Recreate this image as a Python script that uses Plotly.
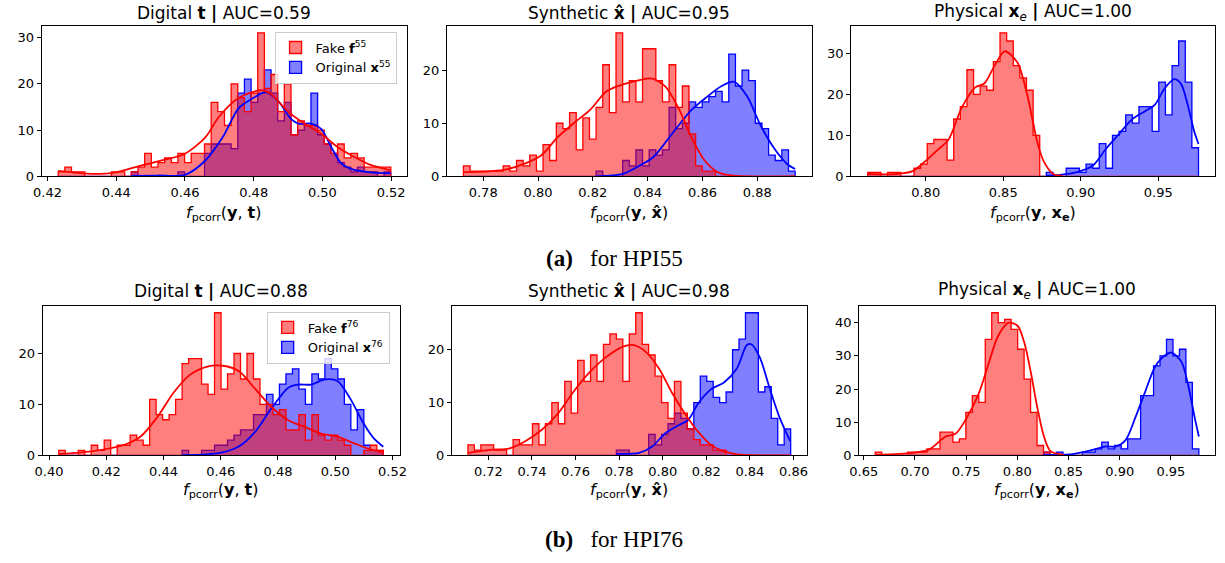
import numpy as np
import plotly.graph_objects as go

# ---- data: 50 shared bins per panel (first edge, last edge)
# (a) HPI55
a_digital_bins = [0.4231, 0.5199]
a_digital_fake = [1, 2, 1, 1, 0, 0, 0, 0, 1, 1, 0, 1, 2, 5, 2, 3, 4, 3, 5, 3,
                  5, 5, 7, 16, 14, 11, 20, 17, 14, 18, 31, 19, 22, 14, 20, 9, 12, 11, 11, 10,
                  7, 5, 7, 4, 5, 4, 2, 2, 2, 2]
a_digital_orig = [0, 0, 0, 0, 0, 0, 0, 0, 0, 0, 0, 1, 0, 0, 0, 0, 0, 0, 1, 0,
                  0, 0, 5, 7, 7, 7, 6, 18, 21, 16, 18, 23, 18, 12, 16, 9, 10, 11, 18, 9,
                  7, 5, 3, 2, 1, 2, 1, 1, 0, 1]
a_digital_kde_fake_x = [0.4231, 0.4277, 0.4334, 0.44, 0.4469, 0.4536, 0.46, 0.466, 0.47, 0.4757,
                        0.4824, 0.4853, 0.49, 0.495, 0.4997, 0.5045, 0.5093, 0.514, 0.5199]
a_digital_kde_fake_y = [1.2, 0.85, 0.55, 0.9, 2.3, 3.5, 4.9, 8.5, 13, 17,
                        18.6, 17.6, 14, 11.3, 9.2, 6.3, 4.2, 2.5, 1.3]
a_digital_kde_orig_x = [0.4444, 0.452, 0.46, 0.466, 0.471, 0.4757, 0.4805, 0.4834, 0.4872, 0.491,
                        0.493, 0.4968, 0.4997, 0.5026, 0.5055, 0.5093, 0.514, 0.5199]
a_digital_kde_orig_y = [0.1, 0.2, 0.35, 3.5, 8.5, 14.8, 17.2, 18.2, 16.2, 12.3,
                        11.4, 11.4, 10.2, 6.3, 2.8, 1.4, 0.9, 0.7]

a_synth_bins = [0.7728, 0.8938]
a_synth_fake = [2, 1, 1, 1, 1, 1, 2, 1, 3, 2, 4, 1, 6, 3, 10, 9, 12, 5, 11, 7,
                13, 21, 12, 27, 14, 18, 14, 24, 24, 18, 14, 21, 13, 17, 8, 2, 1, 1, 0, 0,
                0, 0, 0, 0, 0, 0, 0, 0, 0, 0]
a_synth_orig = [0, 0, 0, 0, 0, 0, 0, 0, 0, 0, 0, 0, 0, 0, 0, 0, 0, 0, 0, 0,
                1, 0, 0, 0, 3, 2, 5, 2, 5, 4, 5, 13, 9, 10, 14, 13, 14, 15, 16, 14,
                23, 17, 20, 18, 10, 9, 4, 3, 5, 1]
a_synth_kde_fake_x = [0.7728, 0.789, 0.801, 0.807, 0.813, 0.819, 0.825, 0.831, 0.837, 0.8417,
                      0.8465, 0.8513, 0.856, 0.8608, 0.8656, 0.872, 0.8938]
a_synth_kde_fake_y = [0.8, 1.4, 3.9, 7.3, 10, 12.5, 16, 17.3, 18.1, 18.4,
                      16.9, 12.8, 7.3, 3, 0.8, 0.1, 0]
a_synth_kde_orig_x = [0.8212, 0.831, 0.837, 0.842, 0.8465, 0.851, 0.856, 0.861, 0.867, 0.8716,
                      0.8764, 0.881, 0.886, 0.891, 0.8938]
a_synth_kde_orig_y = [0, 0.5, 2, 3.6, 6.4, 9.4, 12.5, 14.7, 17, 17.8,
                      15, 9.8, 5.4, 2.3, 1.4]

a_phys_bins = [0.7626, 0.976]
a_phys_fake = [1, 1, 0, 1, 1, 0, 0, 2, 3, 8, 9, 9, 4, 14, 17, 26, 20, 22, 21, 28,
               35, 33, 27, 24, 21, 10, 0, 0, 0, 0, 0, 0, 0, 0, 0, 0, 0, 0, 0, 0,
               0, 0, 0, 0, 0, 0, 0, 0, 0, 0]
a_phys_orig = [0, 0, 0, 0, 0, 0, 0, 0, 0, 0, 0, 0, 0, 0, 0, 0, 0, 0, 0, 0,
               0, 0, 0, 0, 0, 0, 0, 1, 0, 0, 2, 2, 1, 3, 2, 8, 2, 10, 11, 15,
               13, 17, 17, 11, 23, 15, 27, 33, 23, 7]
a_phys_kde_fake_x = [0.7626, 0.781, 0.7916, 0.80, 0.8084, 0.8148, 0.8232, 0.832, 0.838, 0.844,
                     0.851, 0.8591, 0.8655, 0.8718, 0.876, 0.8823, 0.8887]
a_phys_kde_fake_y = [0.6, 0.6, 1.3, 3.8, 6.7, 9, 16.7, 21.7, 22.7, 26.7,
                     30.5, 27.8, 19.9, 8.7, 3.8, 0.6, 0.1]
a_phys_kde_orig_x = [0.8777, 0.8866, 0.8971, 0.9077, 0.9162, 0.9246, 0.9331, 0.9415, 0.9479, 0.9542,
                     0.9605, 0.9648, 0.969, 0.9732, 0.976]
a_phys_kde_orig_y = [0.2, 0.4, 1, 2.6, 6.7, 10.3, 13.9, 15.9, 17.5, 21.5,
                     23.7, 22.5, 17.5, 11, 7.9]

# (b) HPI76
b_digital_bins = [0.4034, 0.5168]
b_digital_fake = [1, 0, 0, 1, 0, 2, 1, 3, 0, 2, 2, 4, 3, 2, 11, 8, 7, 8, 11, 18,
                  19, 19, 14, 12, 28, 13, 16, 20, 15, 20, 15, 10, 10, 8, 9, 5, 5, 8, 3, 8,
                  4, 3, 4, 3, 2, 0, 0, 1, 2, 1]
b_digital_orig = [0, 0, 0, 0, 0, 0, 0, 0, 0, 0, 0, 0, 0, 0, 0, 0, 0, 0, 0, 1,
                  0, 0, 1, 1, 2, 2, 3, 4, 5, 5, 8, 8, 12, 10, 14, 16, 17, 13, 10, 16,
                  15, 19, 17, 15, 10, 5, 9, 2, 1, 1]
b_digital_kde_fake_x = [0.4034, 0.4149, 0.4263, 0.432, 0.4378, 0.4435, 0.4492, 0.455, 0.4607, 0.4664,
                        0.4721, 0.4779, 0.4836, 0.4893, 0.495, 0.5008, 0.5065, 0.5122, 0.5168]
b_digital_kde_fake_y = [0.3, 0.8, 2.1, 3.7, 7.5, 12.3, 15.8, 17.4, 17.6, 16.5,
                        13, 9.4, 6.9, 5.6, 4.3, 3.7, 2.4, 1.2, 0.6]
b_digital_kde_orig_x = [0.4465, 0.455, 0.4607, 0.4664, 0.4721, 0.4779, 0.4836, 0.487, 0.4916, 0.4962,
                        0.5008, 0.5053, 0.5099, 0.5134, 0.5168]
b_digital_kde_orig_y = [0.05, 0.2, 0.6, 1.8, 4.7, 9.4, 13.3, 13.9, 13.9, 14.9,
                        14.6, 11.1, 6.3, 3.4, 1.7]

b_synth_bins = [0.7106, 0.8587]
b_synth_fake = [2, 1, 2, 2, 1, 1, 0, 3, 2, 2, 6, 2, 6, 10, 6, 14, 8, 18, 14, 19,
                14, 21, 23, 22, 14, 23, 27, 21, 19, 15, 10, 7, 14, 8, 5, 3, 2, 2, 1, 1,
                0, 0, 0, 0, 0, 0, 0, 0, 0, 0]
b_synth_orig = [0, 0, 0, 0, 0, 0, 0, 0, 0, 0, 0, 0, 0, 0, 0, 0, 0, 0, 0, 0,
                0, 0, 0, 1, 1, 0, 0, 0, 4, 2, 4, 6, 8, 7, 5, 10, 15, 14, 11, 10,
                12, 20, 22, 27, 27, 12, 13, 7, 2, 5]
b_synth_kde_fake_x = [0.7107, 0.7219, 0.7294, 0.7369, 0.7444, 0.7519, 0.7593, 0.7668, 0.7743, 0.7818,
                      0.7862, 0.7922, 0.7982, 0.8042, 0.8102, 0.8162, 0.8221, 0.8281, 0.8341, 0.8585]
b_synth_kde_fake_y = [0.5, 1.1, 1.3, 2.7, 4.8, 7.9, 12.2, 15.9, 18.7, 20.6,
                      20.9, 19.6, 16.5, 11.9, 7.9, 4.5, 2, 0.8, 0.2, 0]
b_synth_kde_orig_x = [0.7788, 0.7892, 0.7952, 0.8012, 0.8072, 0.8117, 0.8162, 0.8221, 0.8281, 0.8341,
                      0.8386, 0.8408, 0.8446, 0.849, 0.8535, 0.8585]
b_synth_kde_orig_y = [0.3, 0.5, 1.7, 4.2, 5.7, 6.7, 9.8, 12.5, 13.8, 16.5,
                      20.9, 21, 18.5, 12.8, 7.3, 2.7]

b_phys_bins = [0.6612, 0.9773]
b_phys_fake = [1, 0, 0, 0, 0, 1, 1, 1, 2, 2, 7, 7, 4, 5, 13, 18, 16, 35, 43, 40,
               41, 38, 32, 23, 13, 3, 1, 0, 0, 0, 0, 0, 0, 0, 0, 0, 0, 0, 0, 0,
               0, 0, 0, 0, 0, 0, 0, 0, 0, 0]
b_phys_orig = [0, 0, 0, 0, 0, 0, 0, 0, 0, 0, 0, 0, 0, 0, 0, 0, 0, 0, 0, 0,
               0, 0, 0, 0, 0, 0, 1, 0, 1, 0, 0, 0, 1, 1, 2, 4, 2, 3, 2, 5,
               5, 18, 18, 27, 30, 35, 30, 32, 22, 2]
b_phys_kde_fake_x = [0.6612, 0.698, 0.714, 0.73, 0.7396, 0.7492, 0.762, 0.7716, 0.7812, 0.7917,
                     0.8004, 0.8068, 0.8132, 0.8195, 0.826, 0.8323, 0.8451]
b_phys_kde_fake_y = [0.2, 0.8, 1.8, 5.7, 6.5, 10.6, 18.4, 27.3, 36, 40,
                     39, 34, 25, 14.5, 5.7, 1.3, 0.2]
b_phys_kde_orig_x = [0.8256, 0.8515, 0.8643, 0.8771, 0.8867, 0.8963, 0.9059, 0.9155, 0.9251, 0.9347,
                     0.9443, 0.9507, 0.9603, 0.9667, 0.9731, 0.9773]
b_phys_kde_orig_y = [0.1, 0.3, 1, 2, 2.7, 2.7, 4.7, 11.6, 19.4, 26.8,
                     30.2, 31, 28.2, 21.4, 11.6, 5.7]

titles = ["Digital <b>t</b> <b>|</b> AUC=0.59",
          "Synthetic <b>x\u0302</b> <b>|</b> AUC=0.95",
          "Physical <b>x</b><sub><i>e</i></sub> <b>|</b> AUC=1.00",
          "Digital <b>t</b> <b>|</b> AUC=0.88",
          "Synthetic <b>x\u0302</b> <b>|</b> AUC=0.98",
          "Physical <b>x</b><sub><i>e</i></sub> <b>|</b> AUC=1.00"]
xlabels = ["<i>f</i><sub>pcorr</sub>(<b>y</b>, <b>t</b>)",
           "<i>f</i><sub>pcorr</sub>(<b>y</b>, <b>x\u0302</b>)",
           "<i>f</i><sub>pcorr</sub>(<b>y</b>, <b>x<sub>e</sub></b>)"] * 2
x_dticks = [0.02, 0.02, 0.05, 0.02, 0.02, 0.05]
captions = [("(a)", "for HPI55"), ("(b)", "for HPI76")]
legend_names = [["Fake <b>f</b><sup>55</sup>", "Original <b>x</b><sup>55</sup>"],
                ["Fake <b>f</b><sup>76</sup>", "Original <b>x</b><sup>76</sup>"]]

panels = [
    (a_digital_bins, a_digital_fake, a_digital_orig, a_digital_kde_fake_x, a_digital_kde_fake_y, a_digital_kde_orig_x, a_digital_kde_orig_y),
    (a_synth_bins, a_synth_fake, a_synth_orig, a_synth_kde_fake_x, a_synth_kde_fake_y, a_synth_kde_orig_x, a_synth_kde_orig_y),
    (a_phys_bins, a_phys_fake, a_phys_orig, a_phys_kde_fake_x, a_phys_kde_fake_y, a_phys_kde_orig_x, a_phys_kde_orig_y),
    (b_digital_bins, b_digital_fake, b_digital_orig, b_digital_kde_fake_x, b_digital_kde_fake_y, b_digital_kde_orig_x, b_digital_kde_orig_y),
    (b_synth_bins, b_synth_fake, b_synth_orig, b_synth_kde_fake_x, b_synth_kde_fake_y, b_synth_kde_orig_x, b_synth_kde_orig_y),
    (b_phys_bins, b_phys_fake, b_phys_orig, b_phys_kde_fake_x, b_phys_kde_fake_y, b_phys_kde_orig_x, b_phys_kde_orig_y),
]

# ---- layout in pixels
W, H = 1225, 563
boxes = [(32, 403, 26, 179), (443, 813, 26, 179), (853, 1222, 26, 179),
         (33, 395, 310, 462), (448, 808, 310, 462), (861, 1222, 310, 462)]
title_y = [13, 295]
xlabel_y = [217, 498]
caption_y = [262, 547]

RED, BLUE = "#ff0000", "#0000ff"
RED_FILL, BLUE_FILL = "rgba(255,0,0,0.5)", "rgba(0,0,255,0.5)"
FONT = "DejaVu Sans"

fig = go.Figure()
annotations = []
layout = {}


def step_xy(bins, counts):
    edges = np.linspace(bins[0], bins[1], len(counts) + 1)
    xs = [edges[0]] + list(edges) + [edges[-1]]
    ys = [0] + list(counts) + [counts[-1], 0]
    return xs, ys


for i, (bins, fake, orig, kfx, kfy, kox, koy) in enumerate(panels):
    n = "" if i == 0 else str(i + 1)
    xa, ya = "x" + n, "y" + n
    l, r, t, b = boxes[i]
    row = i // 3

    # histograms: blue first so the red one sits on top
    for counts, col, fcol in [(orig, BLUE, BLUE_FILL), (fake, RED, RED_FILL)]:
        xs, ys = step_xy(bins, counts)
        fig.add_trace(go.Scatter(
            x=xs, y=ys, xaxis=xa, yaxis=ya, mode="lines",
            line=dict(color=col, width=1.3, shape="hv"),
            fill="tozeroy", fillcolor=fcol,
            showlegend=False, hoverinfo="skip"
        ))
    # kde curves
    for kx, ky, col in [(kox, koy, BLUE), (kfx, kfy, RED)]:
        fig.add_trace(go.Scatter(
            x=kx, y=ky, xaxis=xa, yaxis=ya, mode="lines",
            line=dict(color=col, width=1.8, shape="spline", smoothing=0.8),
            showlegend=False, hoverinfo="skip"
        ))

    # legend swatches on the digital panels
    if i % 3 == 0:
        leg = "legend" if row == 0 else "legend2"
        for name, col, fcol in [(legend_names[row][0], RED, RED_FILL),
                                (legend_names[row][1], BLUE, BLUE_FILL)]:
            fig.add_trace(go.Bar(
                x=[None], y=[None], xaxis=xa, yaxis=ya, name=name,
                marker=dict(color=fcol, line=dict(color=col, width=1.3)),
                legend=leg, showlegend=True
            ))

    w = bins[1] - bins[0]
    ymax = max(max(fake), max(orig)) * 1.05
    axis_common = dict(
        showline=True, linecolor="black", linewidth=1, mirror=True,
        ticks="outside", ticklen=4, tickwidth=1, tickcolor="black",
        showgrid=False, zeroline=False,
        tickfont=dict(family=FONT, size=13, color="black"),
    )
    layout["xaxis" + n] = dict(
        axis_common, domain=[l / W, r / W], anchor=ya,
        range=[bins[0] - 0.05 * w, bins[1] + 0.05 * w],
        dtick=x_dticks[i], tick0=0, tickformat=".2f",
    )
    layout["yaxis" + n] = dict(
        axis_common, domain=[1 - b / H, 1 - t / H], anchor=xa,
        range=[0, ymax], dtick=10,
    )

    cx = (l + r) / 2 / W
    annotations.append(dict(
        text=titles[i], x=cx, y=1 - title_y[row] / H, xref="paper", yref="paper",
        xanchor="center", yanchor="middle", showarrow=False,
        font=dict(family=FONT, size=17, color="black")
    ))
    annotations.append(dict(
        text=xlabels[i], x=cx, y=1 - xlabel_y[row] / H, xref="paper", yref="paper",
        xanchor="center", yanchor="middle", showarrow=False,
        font=dict(family=FONT, size=16, color="black")
    ))

for row, (tag, rest) in enumerate(captions):
    annotations.append(dict(
        text="<b>" + tag + "</b>\u00a0\u00a0\u00a0" + rest, x=613 / W, y=1 - caption_y[row] / H,
        xref="paper", yref="paper", xanchor="center", yanchor="middle", showarrow=False,
        font=dict(family="Liberation Serif", size=23, color="black")
    ))

legend_style = dict(
    xanchor="right", yanchor="top", bgcolor="rgba(255,255,255,0.8)",
    bordercolor="#cccccc", borderwidth=1, tracegroupgap=0,
    font=dict(family=FONT, size=13, color="black"),
)

fig.update_layout(
    width=W, height=H,
    margin=dict(l=0, r=0, t=0, b=0),
    paper_bgcolor="white", plot_bgcolor="white",
    annotations=annotations,
    legend=dict(legend_style, x=392 / W, y=1 - 32 / H),
    legend2=dict(legend_style, x=385 / W, y=1 - 316 / H),
    **layout
)

# pin the figure to the window origin with no scrollbars
page_fix = ("document.documentElement.style.overflow = 'hidden';"
            "document.body.style.margin = '0';"
            "document.body.style.overflow = 'hidden';")
fig.write_html("out.html", config={"displayModeBar": False}, post_script=page_fix)
